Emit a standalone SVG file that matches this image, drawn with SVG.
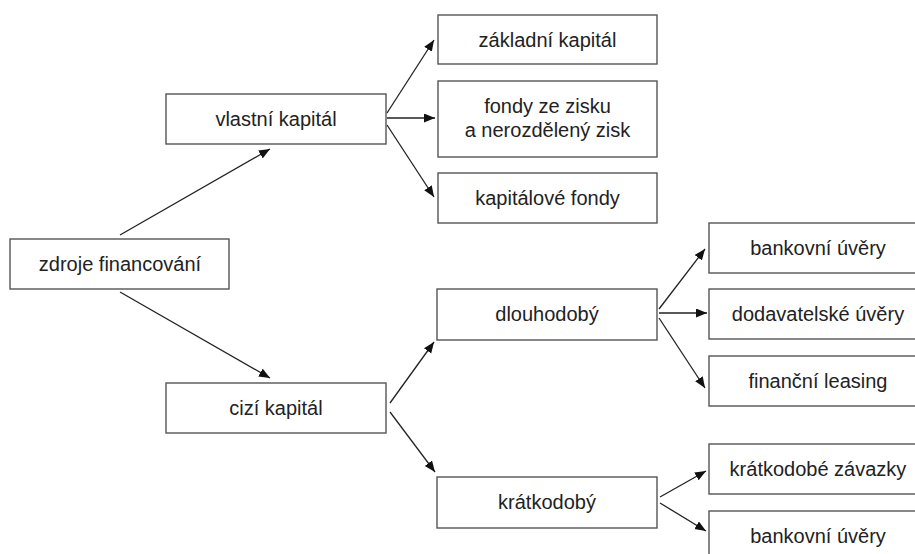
<svg xmlns="http://www.w3.org/2000/svg" width="915" height="554" viewBox="0 0 915 554">
<defs>
<style>
.box{fill:#fff;stroke:#555;stroke-width:1.4}
.t{font-family:"Liberation Sans",Arial,sans-serif;font-size:20px;fill:#222;text-anchor:middle}
.c{stroke:#222;stroke-width:1.3;fill:none;marker-end:url(#ah)}
</style>
<marker id="ah" markerUnits="userSpaceOnUse" markerWidth="12" markerHeight="10" refX="11" refY="4.5" orient="auto">
<path d="M0,0 L11,4.5 L0,9 z" fill="#111"/>
</marker>
</defs>
<rect width="915" height="554" fill="#fff"/>
<g id="connectors">
<line class="c" x1="120" y1="235" x2="270" y2="149"/>
<line class="c" x1="120" y1="292" x2="270" y2="378"/>
<line class="c" x1="387" y1="113" x2="434" y2="40"/>
<line class="c" x1="387" y1="118" x2="435" y2="118"/>
<line class="c" x1="387" y1="125" x2="434" y2="197"/>
<line class="c" x1="390" y1="403" x2="434" y2="342"/>
<line class="c" x1="390" y1="412" x2="435" y2="472"/>
<line class="c" x1="659" y1="309" x2="705" y2="249"/>
<line class="c" x1="659" y1="313" x2="707" y2="313"/>
<line class="c" x1="659" y1="318" x2="705" y2="388"/>
<line class="c" x1="660" y1="497" x2="706" y2="471"/>
<line class="c" x1="660" y1="503" x2="706" y2="531"/>
</g>
<g id="zdroje"><rect class="box" x="10" y="239" width="219" height="50"/><text class="t" x="120" y="271">zdroje financování</text></g>
<g id="vlastni"><rect class="box" x="166" y="94" width="220" height="50"/><text class="t" x="276" y="126">vlastní kapitál</text></g>
<g id="cizi"><rect class="box" x="166" y="383" width="220" height="50"/><text class="t" x="276" y="415">cizí kapitál</text></g>
<g id="zakladni"><rect class="box" x="438" y="15" width="219" height="49"/><text class="t" x="547.5" y="46.5">základní kapitál</text></g>
<g id="fondy"><rect class="box" x="438" y="81" width="219" height="76"/><text class="t" x="547.5" y="113">fondy ze zisku</text><text class="t" x="547.5" y="137">a nerozdělený zisk</text></g>
<g id="kapitalove"><rect class="box" x="438" y="173" width="219" height="50"/><text class="t" x="547.5" y="205">kapitálové fondy</text></g>
<g id="dlouhodoby"><rect class="box" x="437" y="289" width="220" height="51"/><text class="t" x="547" y="321">dlouhodobý</text></g>
<g id="kratkodoby"><rect class="box" x="437" y="477" width="220" height="51"/><text class="t" x="547" y="509">krátkodobý</text></g>
<g id="bankovni1"><rect class="box" x="709" y="223" width="219" height="50"/><text class="t" x="818" y="255">bankovní úvěry</text></g>
<g id="dodavatelske"><rect class="box" x="709" y="289" width="219" height="50"/><text class="t" x="818" y="321">dodavatelské úvěry</text></g>
<g id="leasing"><rect class="box" x="709" y="356" width="219" height="50"/><text class="t" x="818" y="388">finanční leasing</text></g>
<g id="zavazky"><rect class="box" x="709" y="444" width="219" height="50"/><text class="t" x="818" y="476">krátkodobé závazky</text></g>
<g id="bankovni2"><rect class="box" x="709" y="511" width="219" height="50"/><text class="t" x="818" y="543">bankovní úvěry</text></g>
</svg>
